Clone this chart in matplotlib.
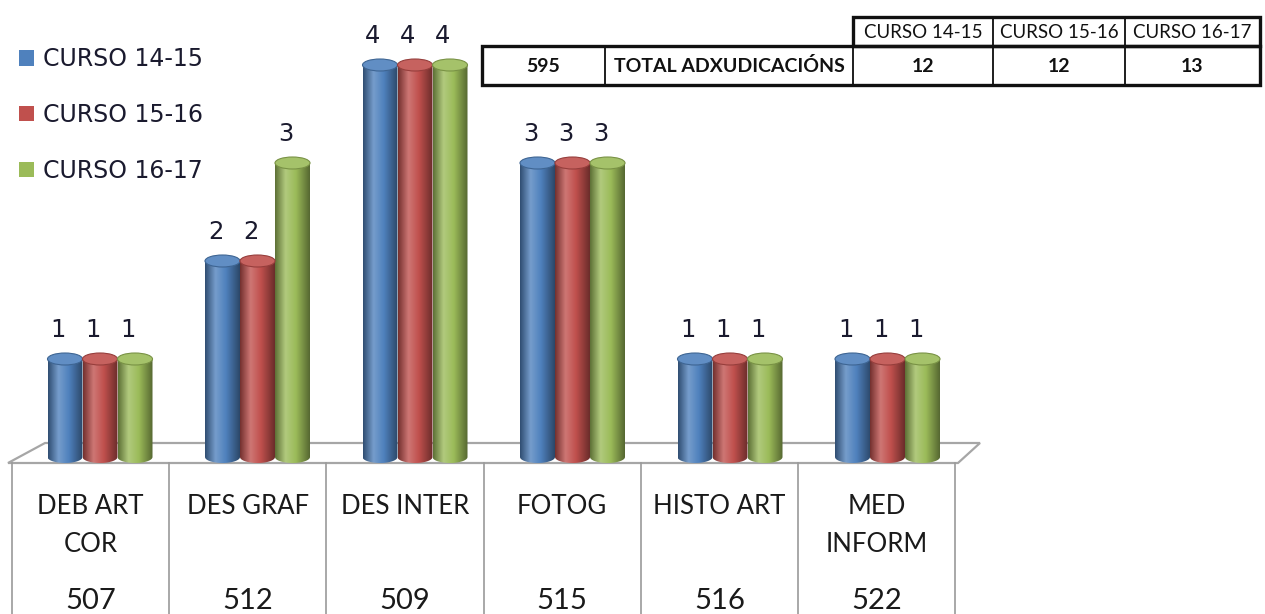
import numpy as np
import matplotlib
matplotlib.use("Agg")
import matplotlib.pyplot as plt
from matplotlib.patches import Ellipse, PathPatch, Rectangle, Patch, Polygon
from matplotlib.path import Path
from matplotlib.colors import LinearSegmentedColormap, to_rgb

# ---------------- data ----------------
categories = ["DEB ART\nCOR", "DES GRAF", "DES INTER", "FOTOG", "HISTO ART", "MED\nINFORM"]
codes = ["507", "512", "509", "515", "516", "522"]
series_names = ["CURSO 14-15", "CURSO 15-16", "CURSO 16-17"]
values_1415 = [1, 2, 4, 3, 1, 1]
values_1516 = [1, 2, 4, 3, 1, 1]
values_1617 = [1, 3, 4, 3, 1, 1]
totals = [12, 12, 13]
total_code = "595"
total_label = "TOTAL ADXUDICACIÓNS"

colors = ["#4F81BD", "#C0504D", "#9BBB59"]
series = [values_1415, values_1516, values_1617]

W, H = 1265, 614
fig = plt.figure(figsize=(W / 100, H / 100), dpi=100)

# overlay axes in pixel coordinates for decorations/tables
ov = fig.add_axes([0, 0, 1, 1], zorder=0)
ov.set_xlim(0, W)
ov.set_ylim(H, 0)
ov.axis("off")

# floor
floor = Polygon([(45, 443), (980, 443), (958, 463), (8, 463)], closed=True,
                facecolor="white", edgecolor="#a6a6a6", lw=1.6)
ov.add_patch(floor)

# category table below
col_edges = [12 + 157.2 * i for i in range(len(categories) + 1)]
for xe in col_edges:
    ov.plot([xe, xe], [463, H], color="#9a9a9a", lw=1.2)
tfont = "Lato"
for i, (cat, code) in enumerate(zip(categories, codes)):
    cx = (col_edges[i] + col_edges[i + 1]) / 2
    for li, line in enumerate(cat.split("\n")):
        ov.text(cx, 507 + 37 * li, line, ha="center", va="center", fontsize=18.5,
                family=tfont, color="#1a1a1a")
    ov.text(cx, 601, code, ha="center", va="center", fontsize=21, family=tfont,
            color="#1a1a1a")

# top table
hdr_x = [853, 993, 1125, 1260]
row2_x = [482, 605, 853, 993, 1125, 1260]
y_h0, y_h1, y_r1 = 17, 46, 85
for i in range(3):
    ov.add_patch(Rectangle((hdr_x[i], y_h0), hdr_x[i + 1] - hdr_x[i], y_h1 - y_h0,
                           fill=False, edgecolor="#222222", lw=1.3))
    ov.text((hdr_x[i] + hdr_x[i + 1]) / 2, (y_h0 + y_h1) / 2 + 1, series_names[i],
            ha="center", va="center", fontsize=13.5, family=tfont, color="#111111")
row2_txt = [total_code, total_label] + [str(t) for t in totals]
for i in range(5):
    ov.add_patch(Rectangle((row2_x[i], y_h1), row2_x[i + 1] - row2_x[i], y_r1 - y_h1,
                           fill=False, edgecolor="#222222", lw=1.3))
    ov.text((row2_x[i] + row2_x[i + 1]) / 2, (y_h1 + y_r1) / 2 + 1, row2_txt[i],
            ha="center", va="center", fontsize=14, family=tfont, weight="bold",
            color="#111111")
# thick outer borders
ov.add_patch(Rectangle((hdr_x[0], y_h0), hdr_x[-1] - hdr_x[0], y_h1 - y_h0,
                       fill=False, edgecolor="#111111", lw=2.4))
ov.add_patch(Rectangle((row2_x[0], y_h1), row2_x[-1] - row2_x[0], y_r1 - y_h1,
                       fill=False, edgecolor="#111111", lw=2.4))

# ---------------- bar axes ----------------
ax = fig.add_axes([0, 0, 1, 1], zorder=2)
ax.patch.set_alpha(0)
ax.axis("off")
spacing = 157.5
xlim = (-100 / spacing, (W - 100) / spacing)
ylim = (-(H - 457) / 98.0, 457 / 98.0)

bw = 35 / spacing
eh = 12 / 98.0
x = np.arange(len(categories))


def make_cmap(c):
    r = np.array(to_rgb(c))
    dark = r * 0.6
    light = r + (1 - r) * 0.22
    return LinearSegmentedColormap.from_list("g", [(0, dark), (0.3, light),
                                                   (0.6, r), (1, dark * 0.92)])


grad = np.linspace(0, 1, 128).reshape(1, -1)
theta = np.linspace(0, np.pi, 40)

for si, (vals, col) in enumerate(zip(series, colors)):
    cmap = make_cmap(col)
    xs = x + (si - 1) * bw
    bars = ax.bar(xs, vals, width=bw, color="none", edgecolor="none")
    for b, v in zip(bars, vals):
        x0 = b.get_x()
        x1 = x0 + b.get_width()
        xc = (x0 + x1) / 2
        arc = list(zip(xc - (bw / 2) * np.cos(theta), -(eh / 2) * np.sin(theta)))
        verts = [(x0, v), (x0, 0)] + arc + [(x1, 0), (x1, v), (x0, v)]
        body = PathPatch(Path(verts, closed=True), facecolor="none", edgecolor="none")
        ax.add_patch(body)
        im = ax.imshow(grad, cmap=cmap, aspect="auto", extent=(x0, x1, -eh / 2, v),
                       interpolation="bilinear", zorder=3)
        im.set_clip_path(body)
        r = np.array(to_rgb(col))
        top = Ellipse((xc, v), bw, eh, facecolor=tuple(r + (1 - r) * 0.1),
                      edgecolor=tuple(r * 0.78), lw=0.8, zorder=4)
        ax.add_patch(top)
        ax.annotate(str(v), (xc, v), xytext=(-5, 21), textcoords="offset points",
                    ha="center", va="center", fontsize=17.5, color="#1a1a2e", zorder=5)

ax.set_xlim(*xlim)
ax.set_ylim(*ylim)

handles = [Patch(facecolor=c, edgecolor="none") for c in colors]
leg = ax.legend(handles, series_names, loc="upper left", bbox_to_anchor=(19 / W, 1 - 47 / H),
                frameon=False, fontsize=17, handlelength=0.65, handleheight=0.65,
                handletextpad=0.35, labelspacing=1.35, borderaxespad=0, borderpad=0)
for t in leg.get_texts():
    t.set_color("#1a1a2e")

fig.savefig("out.png", dpi=100)
